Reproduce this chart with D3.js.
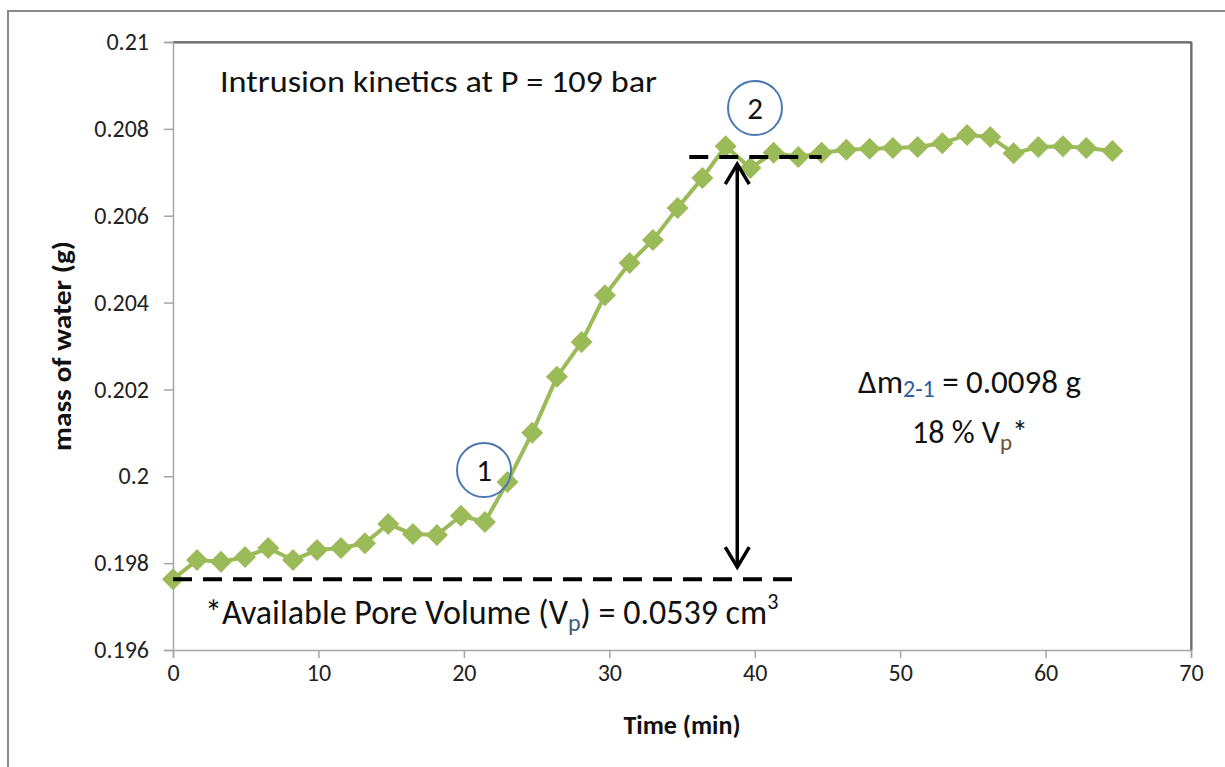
<!DOCTYPE html>
<html><head><meta charset="utf-8">
<script src="https://cdn.jsdelivr.net/npm/d3@7"></script>
<style>body{margin:0;background:#fff}svg{display:block}</style>
</head><body>
<script>
const times = [0,1.65,3.3,4.95,6.55,8.25,9.9,11.55,13.2,14.8,16.5,18.15,19.8,21.45,23.0,24.7,26.4,28.1,29.7,31.4,33.0,34.7,36.4,38.0,39.7,41.3,43.0,44.6,46.3,47.9,49.5,51.2,52.9,54.6,56.2,57.8,59.5,61.2,62.8,64.6];
const masses = [0.19763,0.19807,0.19803,0.19814,0.19835,0.19807,0.19830,0.19835,0.19846,0.19890,0.19867,0.19865,0.19909,0.19895,0.19987,0.20100,0.20229,0.20309,0.20417,0.20491,0.20544,0.20618,0.20687,0.20760,0.20710,0.20745,0.20735,0.20745,0.20752,0.20754,0.20756,0.20758,0.20767,0.20786,0.20781,0.20744,0.20758,0.20760,0.20756,0.20749];
const xTicks = [0,10,20,30,40,50,60,70];
const yTicks = [0.196,0.198,0.2,0.202,0.204,0.206,0.208,0.21];
const yTickLabels = ["0.196","0.198","0.2","0.202","0.204","0.206","0.208","0.21"];
const baseLevel = 0.19763, topLevel = 0.20735;

const W=1225,H=767;
const svg=d3.select("body").append("svg").attr("width",W).attr("height",H);
const font="Carlito, Calibri, 'Open Sans', 'Liberation Sans', sans-serif";
const x=d3.scaleLinear().domain([0,70]).range([173,1191]);
const y=d3.scaleLinear().domain([0.196,0.21]).range([650,42]);

// outer border
svg.append("rect").attr("x",8).attr("y",11).attr("width",1240).attr("height",800)
  .attr("fill","none").attr("stroke","#8a8a8a").attr("stroke-width",2);

// plot area top/right border
svg.append("path").attr("d",`M${x(0)},${y(0.21)+1}H${x(70)+1}V${y(0.196)}`)
  .attr("fill","none").attr("stroke","#b0b0b0").attr("stroke-width",2);
svg.append("path").attr("d",`M${x(0)},${y(0.21)}H${x(70)}V${y(0.196)}`)
  .attr("fill","none").attr("stroke","#555").attr("stroke-width",1.5);

// axes
const xAxis=d3.axisBottom(x).tickValues(xTicks).tickSize(8).tickPadding(5).tickFormat(d3.format("d"));
const gx=svg.append("g").attr("transform",`translate(0,${y(0.196)})`).call(xAxis);
const yAxis=d3.axisLeft(y).tickValues(yTicks).tickSize(9).tickPadding(15).tickFormat((d,i)=>yTickLabels[i]);
const gy=svg.append("g").attr("transform",`translate(${x(0)},0)`).call(yAxis);
[gx,gy].forEach(g=>{
  g.select(".domain").attr("stroke","#a6a6a6").attr("stroke-width",1.5);
  g.selectAll(".tick line").attr("stroke","#a6a6a6").attr("stroke-width",1.5);
  g.selectAll(".tick text").attr("fill","#222").style("font-family",font).style("font-size","24px");
});
gx.selectAll(".tick text").attr("dy","0.75em");

svg.append("text").attr("x",682).attr("y",734).attr("text-anchor","middle")
  .style("font-family",font).style("font-size","26px").style("font-weight","bold").attr("fill","#111").text("Time (min)");
svg.append("text").attr("transform","translate(71,346) rotate(-90)").attr("text-anchor","middle")
  .style("font-family",font).style("font-size","26px").style("font-weight","bold").attr("fill","#111")
  .attr("textLength",210).attr("lengthAdjust","spacingAndGlyphs").text("mass of water (g)");

// series
const pts=times.map((t,i)=>[t,masses[i]]);
svg.append("path").datum(pts).attr("fill","none").attr("stroke","#9bbb59").attr("stroke-width",4)
  .attr("stroke-linejoin","round")
  .attr("d",d3.line().x(d=>x(d[0])).y(d=>y(d[1])));
svg.selectAll(".pt").data(pts).join("path").attr("class","pt")
  .attr("transform",d=>`translate(${x(d[0])},${y(d[1])})`)
  .attr("d","M0,-11L11,0L0,11L-11,0Z").attr("fill","#9bbb59");

// dashed lines
svg.append("line").attr("x1",x(0)).attr("x2",x(42.6)).attr("y1",y(baseLevel)).attr("y2",y(baseLevel))
  .attr("stroke","#000").attr("stroke-width",4).attr("stroke-dasharray","19,11");
svg.append("line").attr("x1",x(35.5)).attr("x2",x(44.6)).attr("y1",y(topLevel)).attr("y2",y(topLevel))
  .attr("stroke","#000").attr("stroke-width",4).attr("stroke-dasharray","19,11");

// double arrow
const ax=x(38.8), ay1=y(topLevel)+7, ay2=y(baseLevel)-12;
svg.append("line").attr("x1",ax).attr("x2",ax).attr("y1",ay1+2).attr("y2",ay2-2).attr("stroke","#000").attr("stroke-width",3.5);
svg.append("path").attr("d",`M${ax-12},${ay1+20}L${ax},${ay1}L${ax+12},${ay1+20}`).attr("fill","none").attr("stroke","#000").attr("stroke-width",3.5);
svg.append("path").attr("d",`M${ax-12},${ay2-20}L${ax},${ay2}L${ax+12},${ay2-20}`).attr("fill","none").attr("stroke","#000").attr("stroke-width",3.5);

// circles
[[484,470,"1"],[755,108,"2"]].forEach(([cx,cy,t])=>{
  svg.append("circle").attr("cx",cx).attr("cy",cy).attr("r",27).attr("fill","none").attr("stroke","#4a78b0").attr("stroke-width",2);
  svg.append("text").attr("x",cx).attr("y",cy+11).attr("text-anchor","middle").style("font-family",font).style("font-size","31px").attr("fill","#111").text(t);
});

// texts
svg.append("text").attr("x",220).attr("y",92).style("font-family",font).style("font-size","30px").attr("fill","#111")
  .attr("textLength",437).attr("lengthAdjust","spacingAndGlyphs").text("Intrusion kinetics at P = 109 bar");

const t1=svg.append("text").attr("x",858).attr("y",393).style("font-family",font).style("font-size","33px").attr("fill","#111");
t1.append("tspan").text("\u0394m");
t1.append("tspan").attr("fill","#2e5e9e").style("font-size","24px").attr("dy",4).text("2-1");
t1.append("tspan").attr("dy",-4).text(" = 0.0098 g");

const t2=svg.append("text").attr("x",912).attr("y",443).style("font-family",font).style("font-size","32px").attr("fill","#111");
t2.append("tspan").text("18 % V");
t2.append("tspan").attr("fill","#6a5035").style("font-size","23px").attr("dy",7).text("p");
t2.append("tspan").attr("dy",-7).text("*");

const t3=svg.append("text").attr("x",205).attr("y",624).style("font-family",font).style("font-size","34px").attr("fill","#111");
t3.append("tspan").text("*Available Pore Volume (V");
t3.append("tspan").attr("fill","#3d5a80").style("font-size","24px").attr("dy",7).text("p");
t3.append("tspan").attr("dy",-7).text(") = 0.0539 cm");
t3.append("tspan").style("font-size","22px").attr("dy",-15).text("3");
</script>
</body></html>
